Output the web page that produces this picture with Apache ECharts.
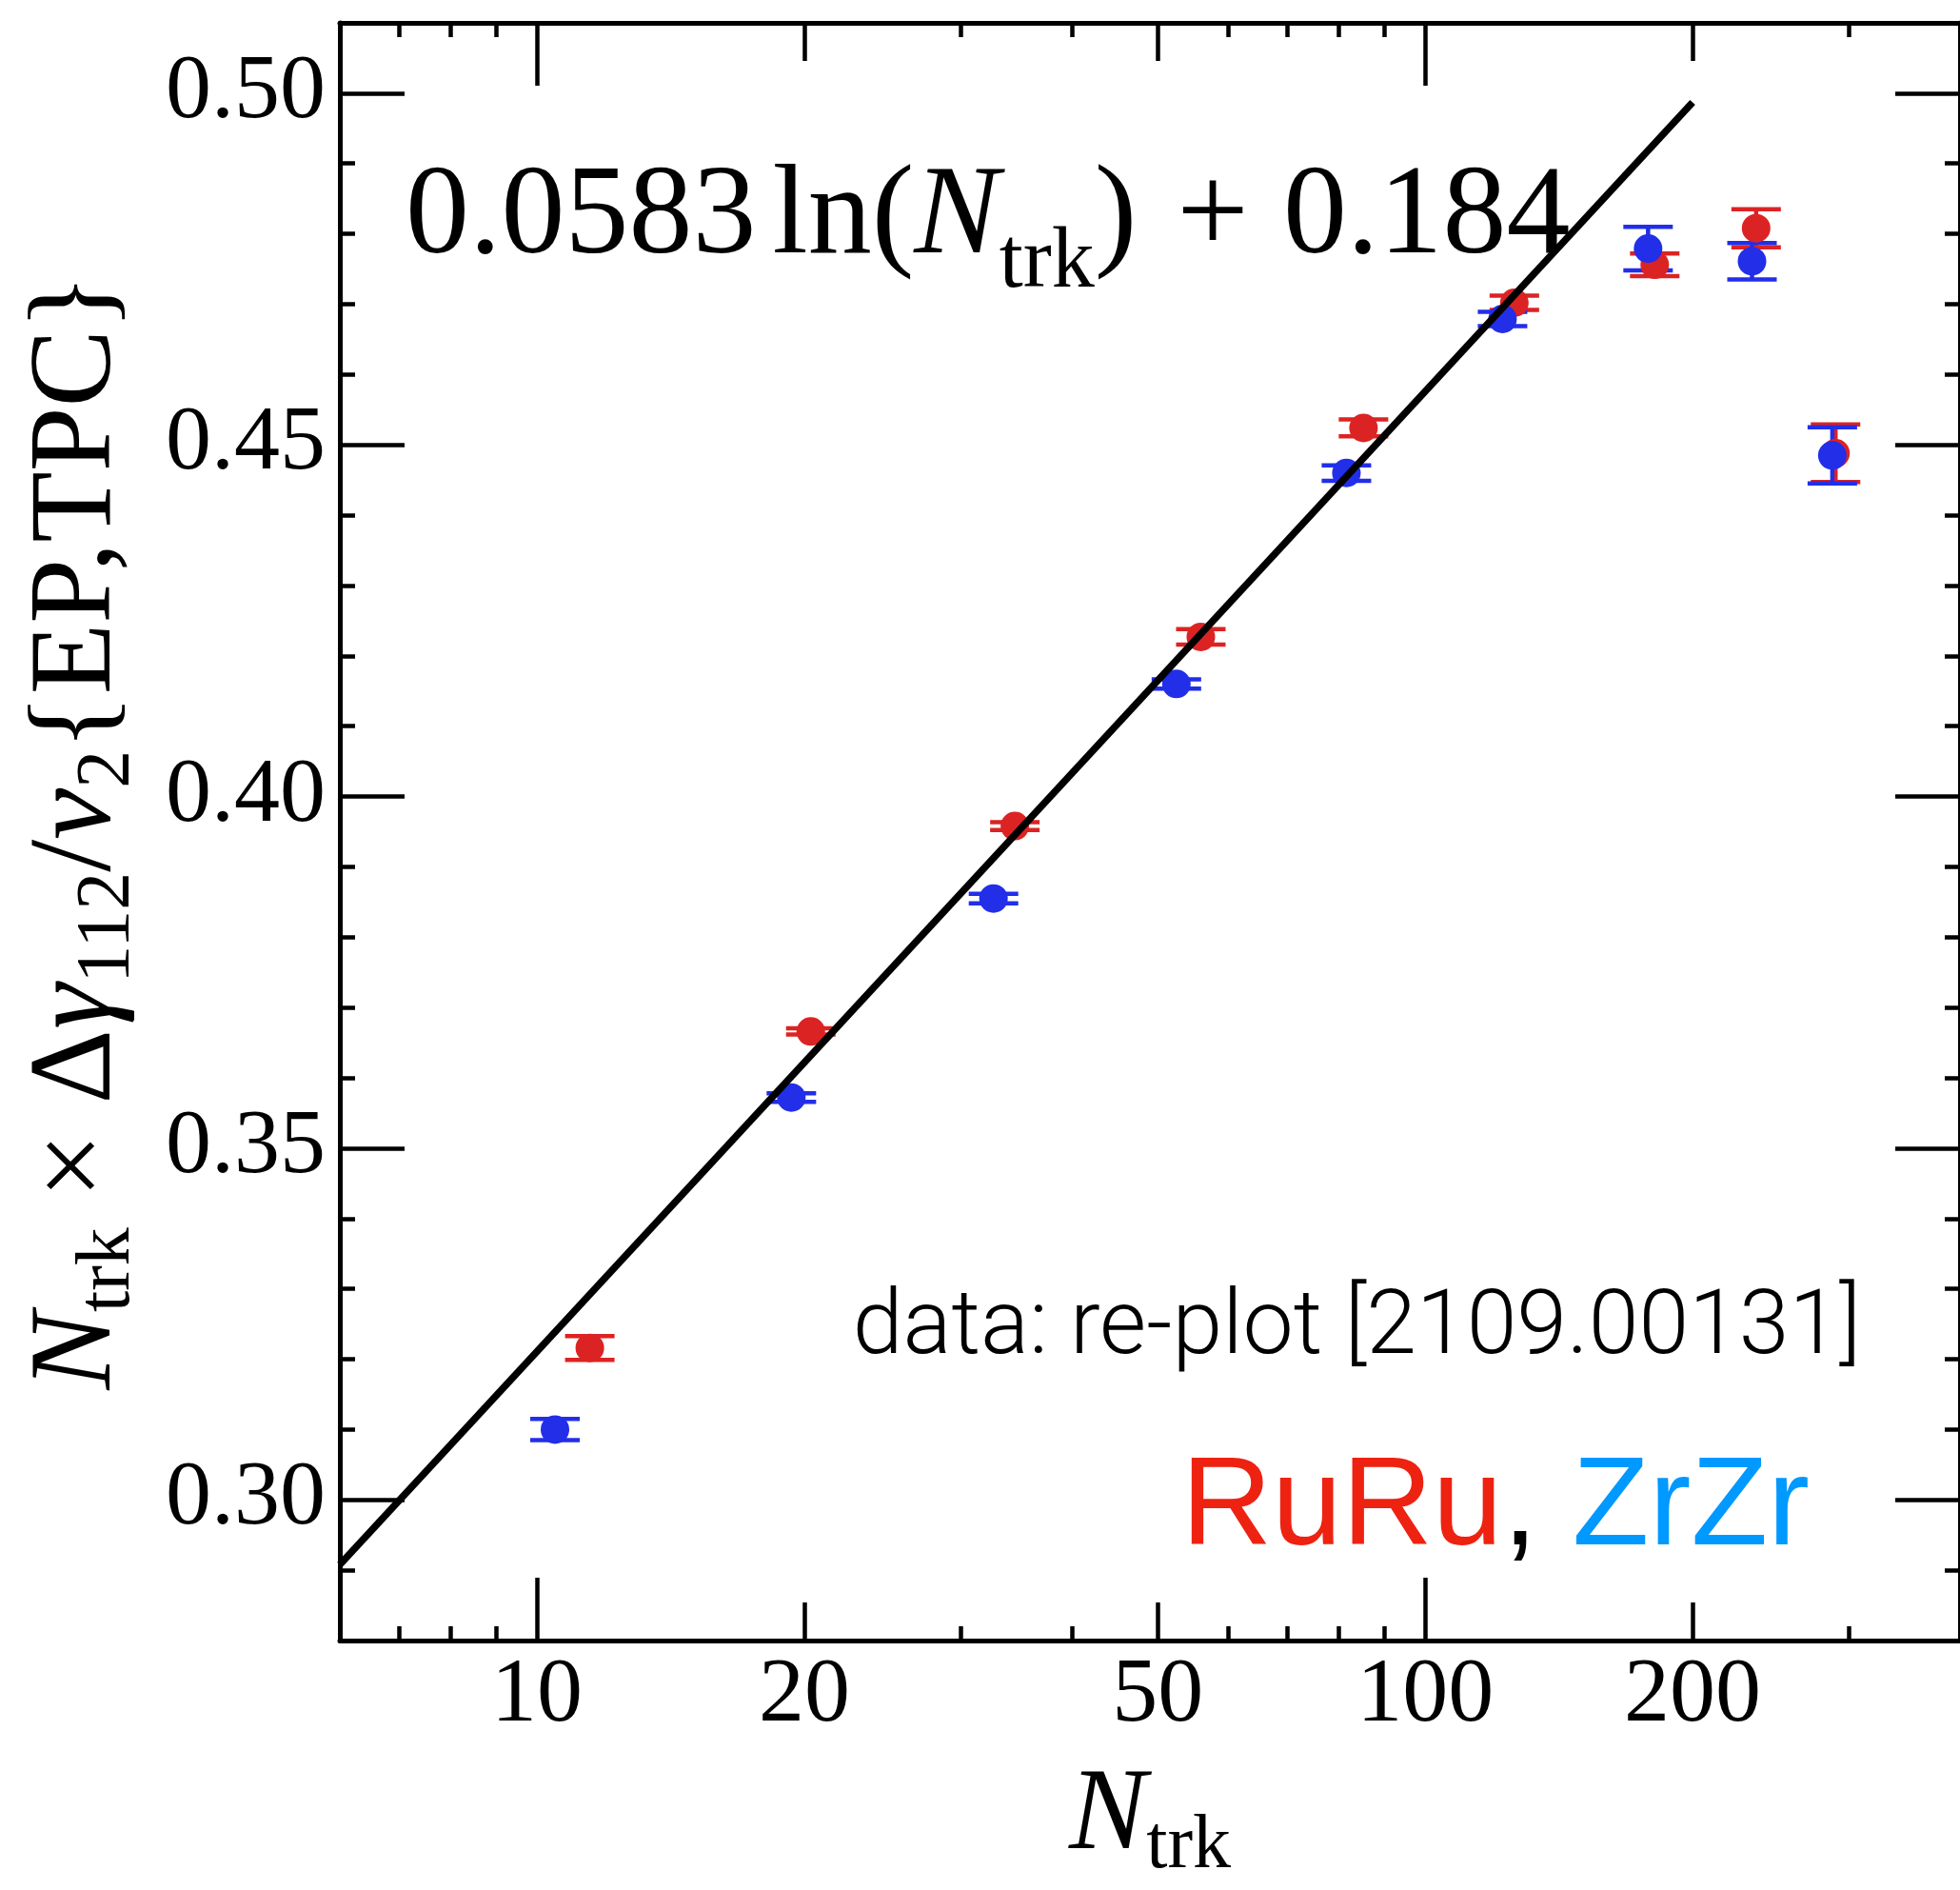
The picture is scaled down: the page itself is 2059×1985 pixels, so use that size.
<!DOCTYPE html>
<html><head><meta charset="utf-8">
<script src="https://cdn.jsdelivr.net/npm/echarts@6/dist/echarts.min.js"></script>
<style>html,body{margin:0;padding:0;background:#fff}#c{width:2059px;height:1985px}</style>
</head><body><div id="c"></div>
<script>
// ---- data ----
const xMajorTicks = [10, 100];
const xMidTicks = [20, 50, 200];
const xMinorTicks = [7, 8, 9, 30, 40, 60, 70, 80, 90, 300];
const xTickLabels = [10, 20, 50, 100, 200];
const yMajorTicks = [0.30, 0.35, 0.40, 0.45, 0.50];
const yMinorTicks = [0.28, 0.29, 0.31, 0.32, 0.33, 0.34, 0.36, 0.37, 0.38, 0.39,
                     0.41, 0.42, 0.43, 0.44, 0.46, 0.47, 0.48, 0.49, 0.51];
const ruruN   = [11.47, 20.34, 34.52, 55.9, 85.22, 126.0, 181.3, 235.8, 289.7];
const ruruY   = [0.3216, 0.3666, 0.3958, 0.4227, 0.4524, 0.4702, 0.4756, 0.4808, 0.4488];
const ruruErr = [0.0017, 0.00045, 0.00056, 0.0011, 0.0012, 0.0010, 0.0016, 0.0027, 0.0041];
const zrzrN   = [10.48, 19.34, 32.66, 52.47, 81.53, 122.2, 178.2, 233.3, 287.3];
const zrzrY   = [0.3100, 0.3572, 0.3855, 0.4160, 0.4460, 0.4679, 0.4779, 0.4761, 0.4485];
const zrzrErr = [0.0015, 0.0006, 0.00067, 0.00067, 0.0011, 0.0010, 0.0031, 0.0026, 0.0040];
const fitLineN = [6, 200];
const fitLineY = [0.2908, 0.4987];
const xRange = [6, 400];
const yRange = [0.28, 0.51];

// ---- styling ----
const SERIF = '"Liberation Serif", "Times New Roman", serif';
const SANS = '"Liberation Sans", Arial, sans-serif';
const RED = '#dc2323', BLUE = '#222ee8';
const AXW = 5, TKW = 4.5;

function xAx(pos, ticks, len, line, labels, extra) {
  return Object.assign({
    type: 'log', logBase: 10, gridIndex: 0, position: pos,
    min: xRange[0], max: xRange[1],
    axisLine: { show: line, onZero: false, lineStyle: { color: '#000', width: AXW } },
    axisTick: { show: true, inside: true, length: len, customValues: ticks,
                lineStyle: { color: '#000', width: TKW } },
    axisLabel: labels ? { show: true, customValues: labels, margin: 11,
                fontFamily: SERIF, fontSize: 96, color: '#000',
                formatter: v => String(Math.round(v)) } : { show: false },
    minorTick: { show: false }, splitLine: { show: false }
  }, extra || {});
}
function yAx(pos, ticks, len, line, labels, extra) {
  return Object.assign({
    type: 'value', gridIndex: 0, position: pos,
    min: yRange[0], max: yRange[1],
    axisLine: { show: line, onZero: false, lineStyle: { color: '#000', width: AXW } },
    axisTick: { show: true, inside: true, length: len, customValues: ticks,
                lineStyle: { color: '#000', width: TKW } },
    axisLabel: labels ? { show: true, customValues: labels, margin: 15,
                fontFamily: SERIF, fontSize: 96, color: '#000', padding: [0, 0, 14, 0],
                formatter: v => v.toFixed(2) } : { show: false },
    splitLine: { show: false }
  }, extra || {});
}

const NM = 122, NS = 80, NL = 142;
const nameRich = {
  i: { fontFamily: SERIF, fontStyle: 'italic', fontSize: NM, lineHeight: NL, color: '#000' },
  r: { fontFamily: SERIF, fontSize: NM, lineHeight: NL, color: '#000' },
  s: { fontFamily: SERIF, fontSize: NS, lineHeight: NS, verticalAlign: 'bottom', color: '#000' }
};
const nameStyle = { fontFamily: SERIF, fontSize: NM, lineHeight: NL, color: '#000', rich: nameRich };

function errSeries(xs, ys, es, color) {
  return {
    type: 'custom', xAxisIndex: 0, yAxisIndex: 0, silent: true, z: 2,
    data: xs.map((x, i) => [x, ys[i] - es[i], ys[i] + es[i]]),
    encode: { x: 0, y: [1, 2] },
    renderItem: (params, api) => {
      const x = api.value(0), lo = api.value(1), hi = api.value(2);
      const p1 = api.coord([x, lo]), p2 = api.coord([x, hi]);
      const hw = 26;
      const st = { stroke: color, lineWidth: 4.5, fill: null };
      return { type: 'group', children: [
        { type: 'line', shape: { x1: p1[0], y1: p1[1], x2: p2[0], y2: p2[1] }, style: st },
        { type: 'line', shape: { x1: p1[0] - hw, y1: p1[1], x2: p1[0] + hw, y2: p1[1] }, style: st },
        { type: 'line', shape: { x1: p2[0] - hw, y1: p2[1], x2: p2[0] + hw, y2: p2[1] }, style: st }
      ]};
    }
  };
}
function dotSeries(xs, ys, color) {
  return {
    type: 'scatter', xAxisIndex: 0, yAxisIndex: 0, z: 2,
    symbol: 'circle', symbolSize: 30, itemStyle: { color: color, opacity: 1 },
    data: xs.map((x, i) => [x, ys[i]])
  };
}

const chart = echarts.init(document.getElementById('c'), null, { renderer: 'canvas' });
chart.setOption({
  animation: false,
  backgroundColor: '#fff',
  grid: { left: 357, top: 24, width: 1707, height: 1707, containLabel: false },
  xAxis: [
    xAx('bottom', xMajorTicks, 66, true, xTickLabels, {
      name: '{i|N}{s|trk}', nameLocation: 'middle', nameGap: 115, nameTextStyle: nameStyle }),
    xAx('bottom', xMidTicks, 40, false, null),
    xAx('bottom', xMinorTicks, 15, false, null),
    xAx('top', xMajorTicks, 66, true, null),
    xAx('top', xMidTicks, 40, false, null),
    xAx('top', xMinorTicks, 15, false, null)
  ],
  yAxis: [
    yAx('left', yMajorTicks, 68, true, yMajorTicks, {
      name: '{i|N}{s|trk}{r| × Δ}{i|γ}{s|112}{r|/}{i|v}{s|2}{EP,TPC}',
      nameLocation: 'middle', nameRotate: 90, nameGap: 203, nameTextStyle: nameStyle }),
    yAx('left', yMinorTicks, 16, false, null),
    yAx('right', yMajorTicks, 68, true, null),
    yAx('right', yMinorTicks, 16, false, null)
  ],
  series: [
    errSeries(ruruN, ruruY, ruruErr, RED),
    dotSeries(ruruN, ruruY, RED),
    errSeries(zrzrN, zrzrY, zrzrErr, BLUE),
    dotSeries(zrzrN, zrzrY, BLUE),
    {
      type: 'line', xAxisIndex: 0, yAxisIndex: 0, z: 5, showSymbol: false, silent: true,
      data: fitLineN.map((x, i) => [x, fitLineY[i]]),
      lineStyle: { color: '#000', width: 7.5 }
    }
  ],
  graphic: [
    { type: 'text', x: 426, y: 138, z: 10, style: {
        text: '{a|0.0583}{b|ln(}{i|N}{s|trk}{a|)}{p|+}{c|0.184}',
        align: 'left', verticalAlign: 'top',
        rich: {
          a: { fontFamily: SERIF, fontSize: 134, lineHeight: 184, fill: '#000' },
          b: { fontFamily: SERIF, fontSize: 134, lineHeight: 184, fill: '#000', padding: [0, 0, 0, 17] },
          p: { fontFamily: SERIF, fontSize: 134, lineHeight: 184, fill: '#000', padding: [0, 0, 0, 42] },
          c: { fontFamily: SERIF, fontSize: 134, lineHeight: 184, fill: '#000', padding: [0, 0, 0, 36] },
          i: { fontFamily: SERIF, fontStyle: 'italic', fontSize: 134, lineHeight: 184, fill: '#000' },
          s: { fontFamily: SERIF, fontSize: 90, lineHeight: 90, verticalAlign: 'bottom', fill: '#000' }
        } } },
    { type: 'text', x: 1955, y: 1397, z: 10, style: {
        text: 'data: re-plot [2109.00131]', align: 'right', verticalAlign: 'middle',
        fontFamily: 'Roboto', fontWeight: 300, fontSize: 95, fill: '#000' } },
    { type: 'text', x: 1901, y: 1586, z: 10, style: {
        text: '{r|RuRu}{c|,} {z|ZrZr}', align: 'right', verticalAlign: 'middle',
        fontFamily: SANS, fontSize: 132, fill: '#000',
        rich: {
          r: { fontFamily: SANS, fontSize: 132, fill: '#ee2211' },
          c: { fontFamily: SANS, fontSize: 132, fill: '#000' },
          z: { fontFamily: SANS, fontSize: 132, fill: '#0099ff' }
        } } }
  ]
});
</script>
</body></html>
